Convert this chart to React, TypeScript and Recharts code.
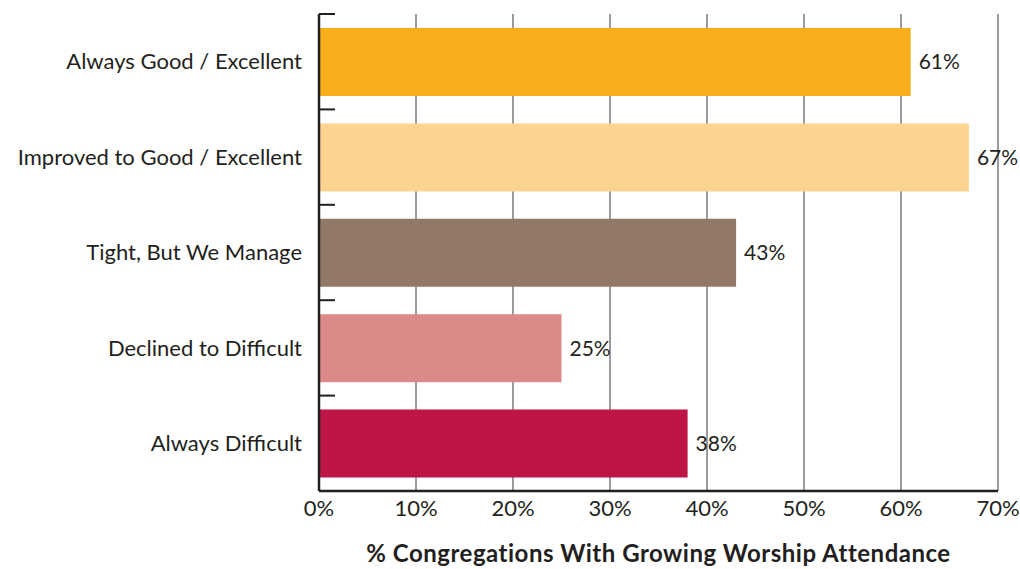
import React from "react";
import { BarChart, Bar, XAxis, YAxis, CartesianGrid, Cell, LabelList } from "recharts";

const categories = [
  "Always Good / Excellent",
  "Improved to Good / Excellent",
  "Tight, But We Manage",
  "Declined to Difficult",
  "Always Difficult",
];
const values = [61, 67, 43, 25, 38];
const colors = ["#F8AE1A", "#FDD392", "#927866", "#DC898A", "#BD1545"];
const xTicks = [0, 10, 20, 30, 40, 50, 60, 70];
const axisTitle = "% Congregations With Growing Worship Attendance";

const data = categories.map((c, i) => ({ name: c, value: values[i] }));

const FONT = "'Lato', 'DejaVu Sans', sans-serif";
const TEXT = "#231F20";
const CHART_W = 1020;
const CHART_H = 569;
const MARGIN = { top: 14, right: 22, bottom: 0, left: 0 };
const Y_W = 319;
const X_H = 78;
const TICK_MARGIN = 17;

const plotH = CHART_H - MARGIN.top - MARGIN.bottom - X_H;
const halfBand = plotH / categories.length / 2;

const CategoryTick = (props: any) => {
  const { x, y, payload } = props;
  const axisX = x + TICK_MARGIN;
  return (
    <g>
      <line x1={axisX} x2={axisX + 16} y1={y - halfBand} y2={y - halfBand} stroke={TEXT} strokeWidth={2} />
      <text x={x} y={y} dy="0.35em" textAnchor="end" fill={TEXT} fontSize={22} fontFamily={FONT}>
        {payload.value}
      </text>
    </g>
  );
};

export default function App() {
  return (
    <div style={{ position: "absolute", left: 0, top: 0 }}>
      <BarChart
        width={CHART_W}
        height={CHART_H}
        data={data}
        layout="vertical"
        margin={MARGIN}
      >
        <CartesianGrid horizontal={false} vertical={true} stroke="#9B9B9E" strokeWidth={2} />
        <XAxis
          type="number"
          domain={[0, 70]}
          ticks={xTicks}
          tickFormatter={(v: number) => `${v}%`}
          axisLine={{ stroke: TEXT, strokeWidth: 2.5 }}
          tickLine={false}
          tickSize={0}
          tickMargin={9}
          height={X_H}
          tick={{ fill: TEXT, fontSize: 22, fontFamily: FONT }}
          label={{
            value: axisTitle,
            position: "insideBottom",
            offset: 7,
            fill: TEXT,
            fontSize: 24,
            fontWeight: 700,
            letterSpacing: 0.5,
            fontFamily: FONT,
          }}
        />
        <YAxis
          type="category"
          dataKey="name"
          width={Y_W}
          axisLine={{ stroke: TEXT, strokeWidth: 2.5 }}
          tickLine={false}
          tickSize={0}
          tickMargin={TICK_MARGIN}
          tick={<CategoryTick />}
          interval={0}
        />
        <Bar dataKey="value" barSize={68} isAnimationActive={false}>
          {data.map((d, i) => (
            <Cell key={d.name} fill={colors[i]} />
          ))}
          <LabelList
            dataKey="value"
            position="right"
            offset={8}
            formatter={(v: any) => `${v}%`}
            fill={TEXT}
            fontSize={21}
            fontFamily={FONT}
          />
        </Bar>
      </BarChart>
    </div>
  );
}
